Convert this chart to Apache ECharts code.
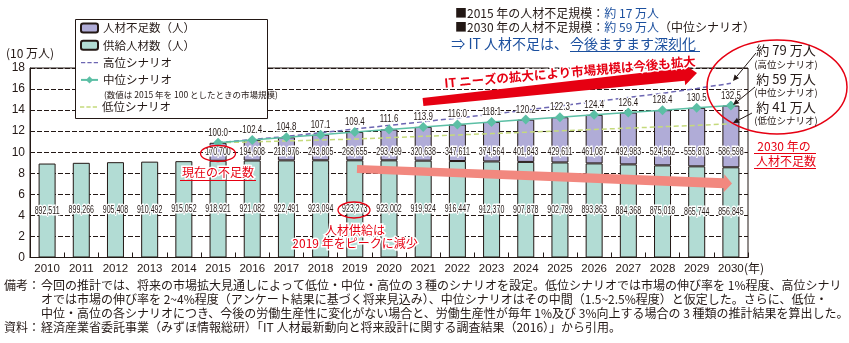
<!DOCTYPE html>
<html><head><meta charset="utf-8">
<script src="https://cdn.jsdelivr.net/npm/echarts@6/dist/echarts.min.js"></script>
<style>html,body{margin:0;padding:0;background:#fff}#c{width:849px;height:343px}</style>
</head><body><div id="c"></div>
<script>
// ---------- data ----------
const years = ['2010','2011','2012','2013','2014','2015','2016','2017','2018','2019','2020','2021','2022','2023','2024','2025','2026','2027','2028','2029','2030'];
const supply = [892511, 899266, 905408, 910492, 915052, 918921, 921082, 922491, 923094, 923273, 923002, 919924, 916447, 912370, 907878, 902789, 893863, 884368, 875018, 865744, 856845];
const shortage = [null, null, null, null, null, 170700, 194608, 218976, 243805, 268655, 293499, 320638, 347611, 374564, 401843, 429611, 461087, 492983, 524562, 555873, 586598];
const midIndex = [null, null, null, null, null, 100.0, 102.4, 104.8, 107.1, 109.4, 111.6, 113.9, 116.0, 118.1, 120.2, 122.3, 124.4, 126.4, 128.4, 130.5, 132.5];
// high / low scenario market size (10万人)
const highScenario = [null, null, null, null, null, 10.90, 11.20, 11.50, 11.85, 12.20, 12.55, 12.90, 13.25, 13.60, 14.00, 14.40, 14.80, 15.20, 15.60, 16.05, 16.55];
const lowScenario = [null, null, null, null, null, 10.90, 10.98, 11.07, 11.16, 11.25, 11.38, 11.51, 11.64, 11.77, 11.90, 12.03, 12.16, 12.29, 12.42, 12.55, 12.70];
const yMin = 0, yMax = 18, yStep = 2;
const UNIT = 100000; // 10万人

// ---------- styles ----------
const JP = '"Noto Sans CJK JP", "Noto Sans", sans-serif';
const LAT = '"Liberation Sans", "Noto Sans", sans-serif';
const INK = '#231815', RED = '#e60012', BLUE = '#1b4f9e';
const SHORT_LABEL_LEVEL = 10;
const NUM_SIZE = 11, NUM_SQUEEZE = 0.64;
const fmt = v => v.toLocaleString('en-US');

const toUnit = arr => arr.map(v => v == null ? null : v / UNIT);
const demand = supply.map((s, i) => shortage[i] == null ? null : (s + shortage[i]) / UNIT);

// ---------- helpers for annotations ----------
function txt(x, y, text, size, color, extra) {
  return { type: 'text', x: x, y: y, z: 60, style: Object.assign({
    text: text, fontSize: size, fontFamily: JP, fill: color,
    align: 'left', textAlign: 'left', verticalAlign: 'middle', textVerticalAlign: 'middle'
  }, extra || {}) };
}
function ln(x1, y1, x2, y2, color, w) {
  return { type: 'line', z: 60, shape: { x1: x1, y1: y1, x2: x2, y2: y2 }, style: { stroke: color, lineWidth: w } };
}
function fatArrow(x1, y1, x2, y2, h1, h2, headLen, headHalf) {
  const dx = x2 - x1, dy = y2 - y1, L = Math.hypot(dx, dy), ux = dx / L, uy = dy / L, nx = -uy, ny = ux;
  const bx = x2 - ux * headLen, by = y2 - uy * headLen;
  return [[x1 + nx * h1, y1 + ny * h1], [bx + nx * h2, by + ny * h2], [bx + nx * headHalf, by + ny * headHalf], [x2, y2],
          [bx - nx * headHalf, by - ny * headHalf], [bx - nx * h2, by - ny * h2], [x1 - nx * h1, y1 - ny * h1]];
}
function thinArrow(x1, y1, x2, y2) {
  const dx = x2 - x1, dy = y2 - y1, L = Math.hypot(dx, dy), ux = dx / L, uy = dy / L, nx = -uy, ny = ux;
  const hl = 6, hh = 2.8, bx = x2 - ux * hl, by = y2 - uy * hl;
  return [ln(x1, y1, bx, by, INK, 1),
    { type: 'polygon', z: 60, shape: { points: [[x2, y2], [bx + nx * hh, by + ny * hh], [bx - nx * hh, by - ny * hh]] }, style: { fill: INK } }];
}
// condensed number label drawn through the axis scales
function numText(p, text, squeeze) {
  return { type: 'text', x: p[0], y: p[1], scaleX: squeeze || NUM_SQUEEZE, scaleY: 1, z2: 10,
    style: { x: 0, y: 0, text: text, fontFamily: LAT, fontSize: NUM_SIZE, fill: INK, stroke: '#fff', lineWidth: 3,
      align: 'center', verticalAlign: 'middle' } };
}

const graphics = [
  // legend frame
  { type: 'rect', z: 3, shape: { x: 75.5, y: 19.5, width: 192, height: 99 }, style: { fill: '#fff', stroke: INK, lineWidth: 1 } },
  txt(104, 95, '(数値は 2015 年を 100 としたときの市場規模)', 8.5, INK, { z: 6 }),
  // x axis unit
  txt(744, 268, '(年)', 12, INK),
  // top-right summary
  { type: 'text', x: 455, y: 13, z: 60, style: { text: '{k|■2015 年の人材不足規模：}{b|約 17 万人}', verticalAlign: 'middle', textVerticalAlign: 'middle',
      rich: { k: { fontSize: 12, fontFamily: JP, fill: INK, color: INK }, b: { fontSize: 12, fontFamily: JP, fill: BLUE, color: BLUE } } } },
  { type: 'text', x: 455, y: 27, z: 60, style: { text: '{k|■2030 年の人材不足規模：}{b|約 59 万人}{k|（中位シナリオ）}', verticalAlign: 'middle', textVerticalAlign: 'middle',
      rich: { k: { fontSize: 12, fontFamily: JP, fill: INK, color: INK }, b: { fontSize: 12, fontFamily: JP, fill: BLUE, color: BLUE } } } },
  txt(568, 44, '⇒ IT 人材不足は、', 14, BLUE, { align: 'right', textAlign: 'right' }),
  txt(570, 44, '今後ますます深刻化', 14, BLUE),
  ln(570, 51.5, 700, 51.5, BLUE, 1.2),
  // big red arrow
  { type: 'polygon', z: 40, shape: { points: fatArrow(423, 102, 697, 73, 4, 6.5, 13, 11) }, style: { fill: RED } },
  { type: 'text', x: 570, y: 72, rotation: 0.088, z: 61, style: { text: 'IT ニーズの拡大により市場規模は今後も拡大', fontSize: 12.5, fontWeight: 'bold', fontFamily: JP,
      fill: RED, stroke: '#fff', lineWidth: 3, align: 'center', textAlign: 'center', verticalAlign: 'middle', textVerticalAlign: 'middle' } },
  // pink arrow
  { type: 'polygon', z: 40, shape: { points: fatArrow(357, 169, 732, 183.5, 4, 5, 8, 9) }, style: { fill: '#f2887f' } },
  // current shortage
  { type: 'ellipse', z: 60, shape: { cx: 218, cy: 153.5, rx: 17.5, ry: 8 }, style: { fill: 'none', stroke: RED, lineWidth: 1.3 } },
  txt(218, 172, '現在の不足数', 12, RED, { align: 'center', textAlign: 'center', stroke: '#fff', lineWidth: 3 }),
  ln(180, 180.5, 256, 180.5, RED, 1),
  // supply peak
  { type: 'ellipse', z: 60, shape: { cx: 354, cy: 210, rx: 16, ry: 8 }, style: { fill: 'none', stroke: RED, lineWidth: 1.3 } },
  txt(355, 230, '人材供給は', 12, RED, { align: 'center', textAlign: 'center', stroke: '#fff', lineWidth: 3 }),
  txt(355, 243, '2019 年をピークに減少', 12, RED, { align: 'center', textAlign: 'center', stroke: '#fff', lineWidth: 3 }),
  // 2030 shortage
  txt(784, 146, '2030 年の', 12, RED, { align: 'center', textAlign: 'center' }),
  ln(754, 153.5, 816, 153.5, RED, 1),
  txt(786, 161, '人材不足数', 12, RED, { align: 'center', textAlign: 'center' }),
  ln(754, 168.5, 816, 168.5, RED, 1),
  // big ellipse with scenario notes
  { type: 'ellipse', z: 60, shape: { cx: 777, cy: 87, rx: 70, ry: 47 }, style: { fill: 'none', stroke: RED, lineWidth: 1.5 } },
  txt(786, 50, '約 79 万人', 13, INK, { align: 'center', textAlign: 'center' }),
  txt(786, 64, '(高位シナリオ)', 9.5, INK, { align: 'center', textAlign: 'center' }),
  txt(786, 79, '約 59 万人', 13, INK, { align: 'center', textAlign: 'center' }),
  txt(786, 92, '(中位シナリオ)', 9.5, INK, { align: 'center', textAlign: 'center' }),
  txt(786, 107, '約 41 万人', 13, INK, { align: 'center', textAlign: 'center' }),
  txt(786, 120, '(低位シナリオ)', 9.5, INK, { align: 'center', textAlign: 'center' }),
  ...thinArrow(756, 53, 733, 81),
  ...thinArrow(755, 87, 733, 105),
  ...thinArrow(752, 113, 733, 123),
  // notes
  txt(4, 285, '備考：', 12, INK),
  txt(41, 285, '今回の推計では、将来の市場拡大見通しによって低位・中位・高位の 3 種のシナリオを設定。低位シナリオでは市場の伸び率を 1%程度、高位シナリ', 12, INK),
  txt(41, 299, 'オでは市場の伸び率を 2~4%程度（アンケート結果に基づく将来見込み）、中位シナリオはその中間（1.5~2.5%程度）と仮定した。さらに、低位・', 12, INK),
  txt(41, 313, '中位・高位の各シナリオにつき、今後の労働生産性に変化がない場合と、労働生産性が毎年 1%及び 3%向上する場合の 3 種類の推計結果を算出した。', 12, INK),
  txt(4, 327, '資料：', 12, INK),
  txt(41, 327, '経済産業省委託事業（みずほ情報総研）「IT 人材最新動向と将来設計に関する調査結果（2016）」から引用。', 12, INK)
];

const DASH_ICON = 'path://M0 0H4V1.2H0Z M6 0H10V1.2H6Z M12 0H16V1.2H12Z';
const legendText = { fontSize: 11.5, lineHeight: 14, fontFamily: JP, color: INK };

const option = {
  animation: false,
  backgroundColor: '#fff',
  grid: { left: 30, right: 101, top: 68, bottom: 85.5, show: true, borderColor: INK, borderWidth: 1, backgroundColor: 'transparent', containLabel: false, outerBoundsMode: 'none' },
  legend: [
    { left: 80, top: 21, orient: 'vertical', padding: 0, itemGap: 3.3, itemWidth: 17, itemHeight: 9, z: 5,
      data: ['人材不足数（人）', '供給人材数（人）', { name: '高位シナリオ', icon: DASH_ICON }, '中位シナリオ'],
      textStyle: legendText },
    { left: 80, top: 100, orient: 'vertical', padding: 0, itemWidth: 17, itemHeight: 9, z: 5,
      data: [{ name: '低位シナリオ', icon: DASH_ICON }], textStyle: legendText }
  ],
  xAxis: {
    type: 'category', data: years, boundaryGap: true,
    axisLine: { show: true, lineStyle: { color: INK, width: 1 } },
    axisTick: { show: true, inside: true, length: 5, interval: 0, lineStyle: { color: INK } },
    axisLabel: { fontSize: 11.5, color: INK, fontFamily: LAT, margin: 5, interval: 0 },
    splitLine: { show: false }
  },
  yAxis: {
    type: 'value', min: yMin, max: yMax, interval: yStep,
    name: '(10 万人)', nameLocation: 'end', nameGap: 9,
    nameTextStyle: { fontSize: 12, color: INK, fontFamily: JP, align: 'center' },
    axisLine: { show: true, lineStyle: { color: INK, width: 1 } },
    axisTick: { show: false },
    axisLabel: { fontSize: 12, color: INK, fontFamily: LAT, margin: 5 },
    splitLine: { show: true, lineStyle: { color: INK, width: 1, type: [5, 2] } }
  },
  series: [
    { name: '供給人材数（人）', type: 'bar', stack: 'total', barWidth: 17, data: toUnit(supply), z: 2,
      itemStyle: { color: '#b2dcd4', borderColor: INK, borderWidth: 1 } },
    { name: '人材不足数（人）', type: 'bar', stack: 'total', barWidth: 17, data: toUnit(shortage), z: 2,
      itemStyle: { color: '#b0acd7', borderColor: INK, borderWidth: 1 } },
    { name: '高位シナリオ', type: 'line', data: highScenario, symbol: 'none', z: 3,
      lineStyle: { color: '#6c66b2', width: 1.5, type: [5, 3] }, itemStyle: { color: '#6c66b2' } },
    { name: '低位シナリオ', type: 'line', data: lowScenario, symbol: 'none', z: 3,
      lineStyle: { color: '#c5da7c', width: 1.5, type: [5, 3] }, itemStyle: { color: '#c5da7c' } },
    { name: '中位シナリオ', type: 'line', data: demand, symbol: 'diamond', symbolSize: 10, z: 4,
      lineStyle: { color: '#5cbfa5', width: 1.5 }, itemStyle: { color: '#5cbfa5' } },
    // supply labels: centre of the supply bar
    { name: 'supplyLabels', type: 'custom', z: 5,
      data: supply.map((v, i) => [i, v]), encode: { x: 0, y: 1 },
      renderItem: (params, api) => numText(api.coord([api.value(0), api.value(1) / UNIT / 2]), fmt(api.value(1))) },
    // shortage labels: on the 10 gridline
    { name: 'shortageLabels', type: 'custom', z: 5,
      data: shortage.map((v, i) => [i, v]).filter(d => d[1] != null), encode: { x: 0, y: 1 },
      renderItem: (params, api) => numText(api.coord([api.value(0), SHORT_LABEL_LEVEL]), fmt(api.value(1))) },
    // mid-scenario index labels above the markers
    { name: 'midLabels', type: 'custom', z: 6,
      data: demand.map((v, i) => [i, v, midIndex[i]]).filter(d => d[1] != null), encode: { x: 0, y: 1 },
      renderItem: (params, api) => {
        const p = api.coord([api.value(0), api.value(1)]);
        return numText([p[0], p[1] - 10], api.value(2).toFixed(1), 0.72);
      } }
  ],
  graphic: { elements: graphics }
};

const chart = echarts.init(document.getElementById('c'), null, { renderer: 'canvas' });
chart.setOption(option);
</script>
</body></html>
